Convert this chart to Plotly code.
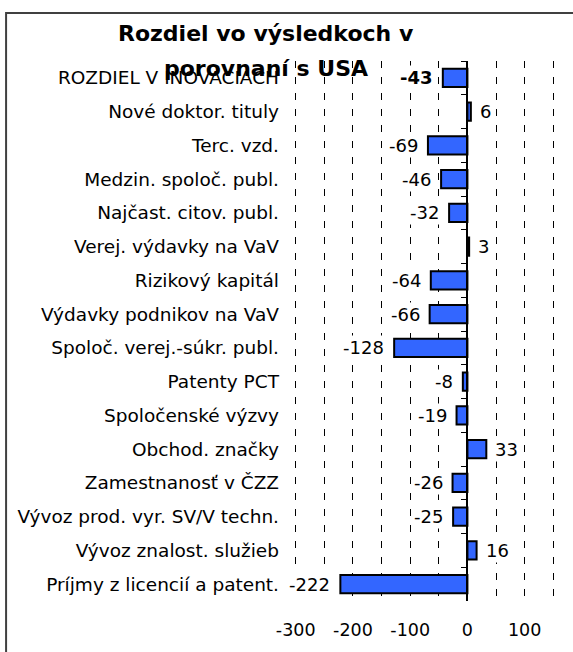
import plotly.graph_objects as go

categories = [
    "ROZDIEL V INOVACIACH",
    "Nové doktor. tituly",
    "Terc. vzd.",
    "Medzin. spoloč. publ.",
    "Najčast. citov. publ.",
    "Verej. výdavky na VaV",
    "Rizikový kapitál",
    "Výdavky podnikov na VaV",
    "Spoloč. verej.-súkr. publ.",
    "Patenty PCT",
    "Spoločenské výzvy",
    "Obchod. značky",
    "Zamestnanosť v ČZZ",
    "Vývoz prod. vyr. SV/V techn.",
    "Vývoz znalost. služieb",
    "Príjmy z licencií a patent.",
]
values = [-43, 6, -69, -46, -32, 3, -64, -66, -128, -8, -19, 33, -26, -25, 16, -222]

tick_vals = [-300, -250, -200, -150, -100, -50, 0, 50, 100, 150]
tick_text = ["-300", "", "-200", "", "-100", "", "0", "", "100", ""]

title_lines = ["Rozdiel vo výsledkoch v", "porovnaní s USA"]

FONT = "DejaVu Sans"
W, H = 573, 652

x0, x1 = -303, 153
PX_PER_UNIT = 257 / 450
plot_left = 296 + (x0 + 300) * PX_PER_UNIT
PW = (x1 - x0) * PX_PER_UNIT
plot_top, plot_bot = 61, 612
PH = plot_bot - plot_top
ML, MT = plot_left, plot_top
MR = W - ML - PW
MB = H - plot_bot


def px_to_paper_x(px):
    return (px - plot_left) / PW


def py_to_paper_y(py):
    return (plot_bot - py) / PH


fig = go.Figure()
fig.add_trace(go.Bar(
    y=categories, x=values, orientation="h",
    marker=dict(color="#3366FF", line=dict(color="black", width=2)),
    hoverinfo="skip",
))
# invisible copy for the zero-positioned category axis (tick marks between categories)
fig.add_trace(go.Bar(
    y=categories, x=[0] * len(categories), orientation="h", yaxis="y2",
    marker=dict(color="rgba(0,0,0,0)"), hoverinfo="skip", showlegend=False,
))

zero_pos = (0 - x0) / (x1 - x0)

annotations = []
# data labels with white boxes (they hide the dashed grid behind them)
for i, (cat, v) in enumerate(zip(categories, values)):
    txt = f"<b>{v}</b>" if i == 0 else str(v)
    annotations.append(dict(
        text=txt, x=v, y=cat, xref="x", yref="y",
        xanchor="right" if v < 0 else "left", yanchor="middle",
        xshift=-8 if v < 0 else 7, showarrow=False,
        bgcolor="white", borderpad=1,
        font=dict(family=FONT, size=18, color="black"),
    ))

title_font = dict(family=FONT, size=22, color="black", weight="bold")
for line, py in zip(title_lines, [33, 69]):
    annotations.append(dict(
        text=line, x=px_to_paper_x(266), y=py_to_paper_y(py),
        xref="paper", yref="paper", xanchor="center", yanchor="middle",
        showarrow=False, font=title_font,
    ))

# outer frame: left and top edges visible, right/bottom outside the window
bx0, bx1 = px_to_paper_x(7), px_to_paper_x(W + 40)
by0, by1 = py_to_paper_y(H + 40), py_to_paper_y(12)
frame_path = f"M {bx0},{by0} L {bx0},{by1} L {bx1},{by1}"

fig.update_layout(
    width=W, height=H,
    margin=dict(l=ML, r=MR, t=MT, b=MB, pad=0),
    paper_bgcolor="white", plot_bgcolor="white",
    showlegend=False, bargap=0.46,
    font=dict(family=FONT, color="black"),
    annotations=annotations,
    xaxis=dict(
        range=[x0, x1], tickvals=tick_vals, ticktext=tick_text,
        showgrid=True, gridcolor="black", gridwidth=1, griddash="7px,9px",
        zeroline=False, showline=False, ticks="",
        tickfont=dict(family=FONT, size=17.5, color="black"),
        ticklabelstandoff=16,
    ),
    yaxis=dict(
        type="category", categoryorder="array", categoryarray=categories,
        autorange="reversed", showgrid=False, zeroline=False, showline=False,
        ticks="", tickfont=dict(family=FONT, size=18.5, color="black"),
        ticklabelstandoff=14,
    ),
    yaxis2=dict(
        type="category", categoryorder="array", categoryarray=categories,
        autorange="reversed", overlaying="y", anchor="free", position=zero_pos,
        side="left", showgrid=False, zeroline=False, showline=True,
        linecolor="black", linewidth=1.5, ticks="outside", tickson="boundaries",
        ticklen=6, tickcolor="black", tickwidth=1, showticklabels=False,
    ),
    shapes=[dict(
        type="path", xref="paper", yref="paper", path=frame_path,
        line=dict(color="#404040", width=2), layer="above",
    )],
)

fig.write_html(
    "out.html",
    config={"displayModeBar": False},
    post_script="document.body.style.margin='0';document.body.style.overflow='hidden';",
)
